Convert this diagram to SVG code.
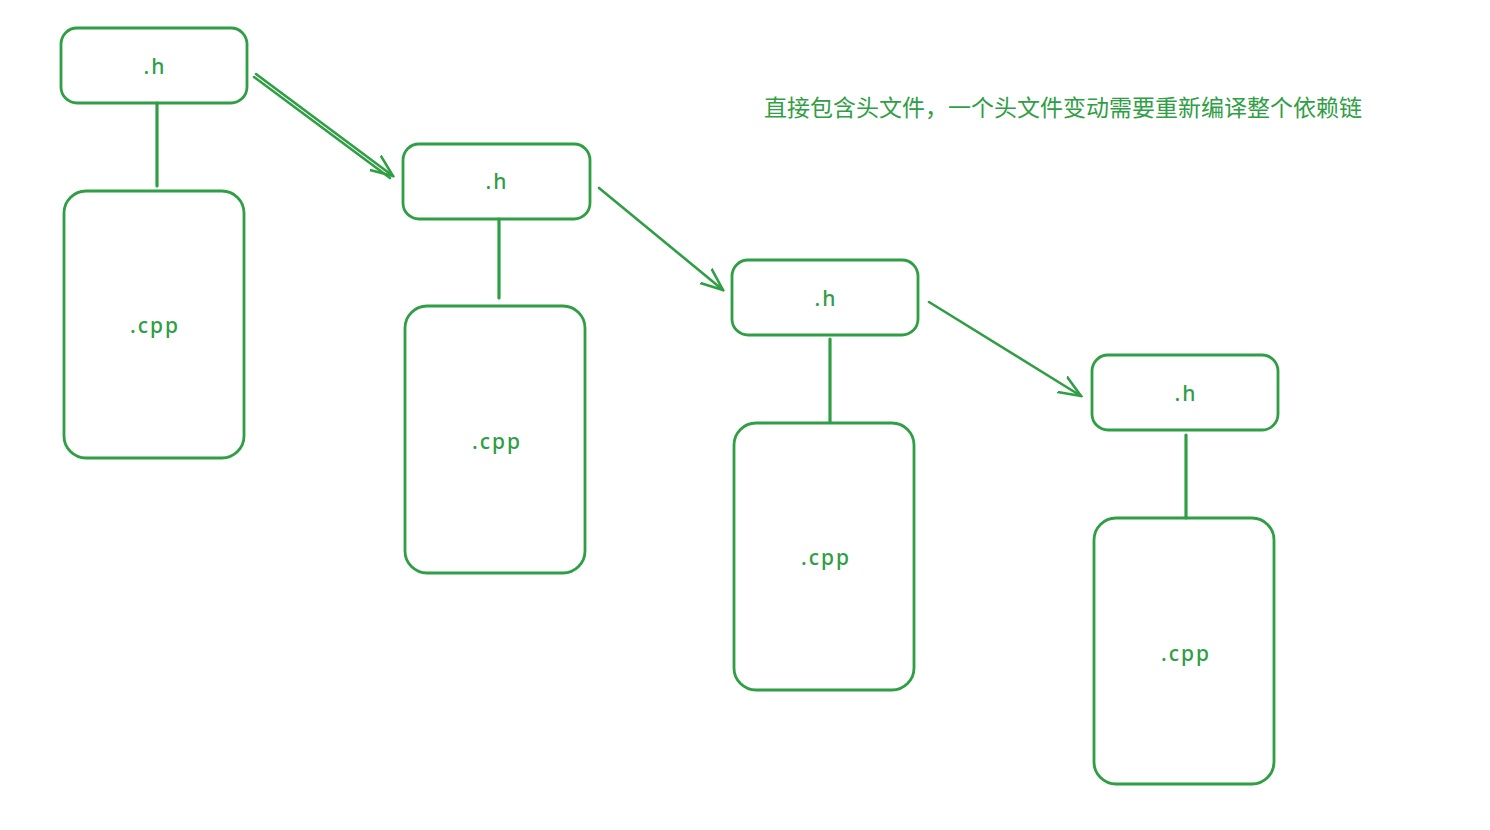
<svg xmlns="http://www.w3.org/2000/svg" width="1490" height="830" viewBox="0 0 1490 830">
<defs>
<style>
.box{fill:none;stroke:#2f9e44;stroke-width:2.8}
.ln{fill:none;stroke:#2f9e44;stroke-width:3.2;stroke-linecap:round}
.ar{fill:none;stroke:#2f9e44;stroke-width:2.6;stroke-linecap:round;stroke-linejoin:round}
.lbl{font-family:"Noto Sans","Liberation Sans",sans-serif;font-size:21px;font-weight:500;fill:#2f9e44;text-anchor:middle;dominant-baseline:central;letter-spacing:2px}
.note{font-family:"Noto Sans CJK SC","Noto Sans",sans-serif;font-size:23px;fill:#2f9e44}
</style>
<marker id="ah" viewBox="0 0 24 24" refX="22" refY="12" markerWidth="24" markerHeight="24" markerUnits="userSpaceOnUse" orient="auto">
<path d="M0,3 L22,12 L0,21" fill="none" stroke="#2f9e44" stroke-width="2.6" stroke-linecap="round"/>
</marker>
</defs>
<rect width="1490" height="830" fill="#ffffff"/>
<g id="connectors">
<line class="ln" x1="157" y1="103" x2="157" y2="186"/>
<line class="ln" x1="499" y1="219" x2="499" y2="298"/>
<line class="ln" x1="830" y1="339" x2="830" y2="422"/>
<line class="ln" x1="1186" y1="435" x2="1186" y2="518"/>
<line class="ar" x1="256" y1="74" x2="393" y2="176" marker-end="url(#ah)"/>
<line class="ar" x1="254" y1="77" x2="390" y2="178"/>
<line class="ar" x1="599" y1="188" x2="723" y2="290" marker-end="url(#ah)"/>
<line class="ar" x1="929" y1="302" x2="1081" y2="396" marker-end="url(#ah)"/>
</g>
<g id="h1"><rect class="box" x="61" y="28" width="186" height="75" rx="16"/><text class="lbl" x="155" y="66">.h</text></g>
<g id="cpp1"><rect class="box" x="64" y="191" width="180" height="267" rx="22"/><text class="lbl" x="155" y="325">.cpp</text></g>
<g id="h2"><rect class="box" x="403" y="144" width="187" height="75" rx="16"/><text class="lbl" x="497" y="181">.h</text></g>
<g id="cpp2"><rect class="box" x="405" y="306" width="180" height="267" rx="22"/><text class="lbl" x="497" y="441">.cpp</text></g>
<g id="h3"><rect class="box" x="732" y="260" width="186" height="75" rx="16"/><text class="lbl" x="826" y="298">.h</text></g>
<g id="cpp3"><rect class="box" x="734" y="423" width="180" height="267" rx="22"/><text class="lbl" x="826" y="557">.cpp</text></g>
<g id="h4"><rect class="box" x="1092" y="355" width="186" height="75" rx="16"/><text class="lbl" x="1186" y="393">.h</text></g>
<g id="cpp4"><rect class="box" x="1094" y="518" width="180" height="266" rx="22"/><text class="lbl" x="1186" y="653">.cpp</text></g>
<g id="note"><text class="note" x="764" y="116">直接包含头文件，一个头文件变动需要重新编译整个依赖链</text></g>
</svg>
